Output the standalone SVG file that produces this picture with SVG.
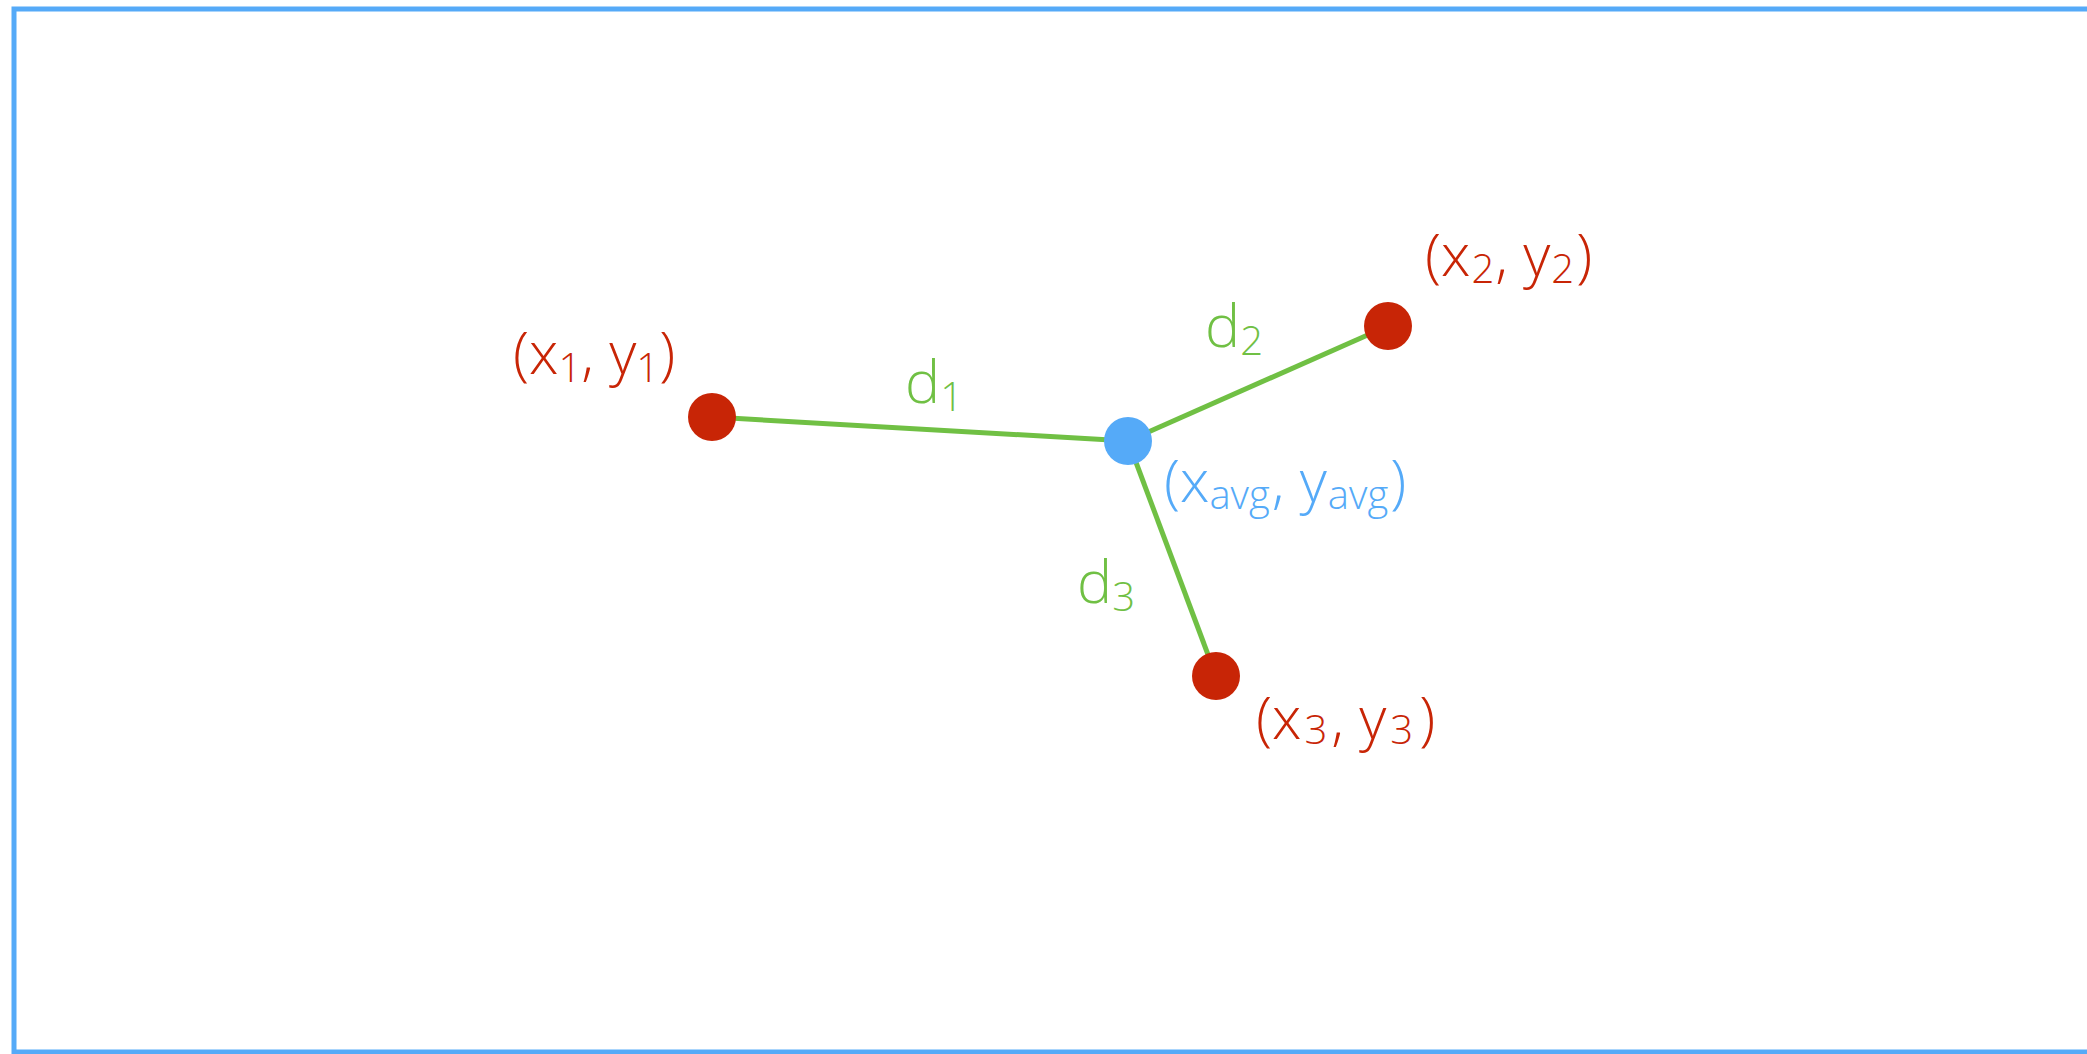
<svg xmlns="http://www.w3.org/2000/svg" width="2087" height="1054" viewBox="0 0 2087 1054">
<style>
.lbl{font-family:"Open Sans","Noto Sans",sans-serif;font-size:59px;font-weight:300}
.red{fill:#c82506}
.blue{fill:#55aaf8}
.green{fill:#70c044}
.sub{font-size:40px}
.edge{stroke:#70c044;stroke-width:5;fill:none}
</style>
<rect x="0" y="0" width="2087" height="1054" fill="#ffffff"/>
<rect id="frame" x="14" y="9" width="2100" height="1043" fill="none" stroke="#55aaf8" stroke-width="5"/>
<g id="connectors">
<line id="d1-line" class="edge" x1="712" y1="417" x2="1128" y2="441"/>
<line id="d2-line" class="edge" x1="1128" y1="441" x2="1388" y2="326"/>
<line id="d3-line" class="edge" x1="1128" y1="441" x2="1216" y2="676"/>
</g>
<g id="p1"><circle cx="712" cy="417" r="24" class="red"/><text class="lbl red" x="513" y="374">(x<tspan class="sub" dy="8">1</tspan><tspan dy="-8">, y</tspan><tspan class="sub" dy="8">1</tspan><tspan dy="-8">)</tspan></text></g>
<g id="p2"><circle cx="1388" cy="326" r="24" class="red"/><text class="lbl red" x="1425" y="276">(x<tspan class="sub" dy="7" dx="1">2</tspan><tspan dy="-7" dx="1">, y</tspan><tspan class="sub" dy="7" dx="1">2</tspan><tspan dy="-7" dx="2">)</tspan></text></g>
<g id="p3"><circle cx="1216" cy="676" r="24" class="red"/><text class="lbl red" x="1256" y="739">(x<tspan class="sub" dy="5" dx="3">3</tspan><tspan dy="-5" dx="4">, y</tspan><tspan class="sub" dy="5" dx="4">3</tspan><tspan dy="-5" dx="6">)</tspan></text></g>
<g id="avg"><circle cx="1128" cy="441" r="24" class="blue"/><text class="lbl blue" x="1164" y="502">(x<tspan class="sub" dy="7">avg</tspan><tspan dy="-7" dx="2">, y</tspan><tspan class="sub" dy="7" dx="1">avg</tspan><tspan dy="-7" dx="2">)</tspan></text></g>
<g id="d1"><text class="lbl green" x="905" y="403">d<tspan class="sub" dy="8">1</tspan></text></g>
<g id="d2"><text class="lbl green" x="1205" y="347">d<tspan class="sub" dy="8">2</tspan></text></g>
<g id="d3"><text class="lbl green" x="1077" y="603">d<tspan class="sub" dy="8">3</tspan></text></g>
</svg>
